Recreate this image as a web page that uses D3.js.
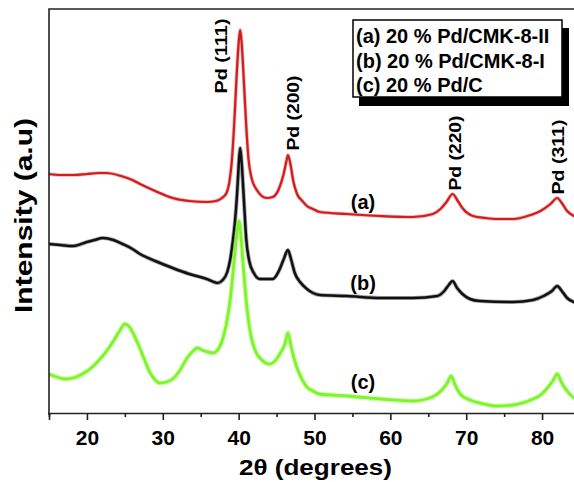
<!DOCTYPE html>
<html>
<head>
<meta charset="utf-8">
<script src="https://cdn.jsdelivr.net/npm/d3@7"></script>
<style>
  html, body { margin: 0; padding: 0; background: #fff; }
  svg { display: block; }
  text { font-family: Arial, "Liberation Sans", sans-serif; font-weight: bold; fill: #000; }
</style>
</head>
<body>
<svg id="chart" width="574" height="482"></svg>
<script>
// ---------- data ----------
const thetaA = [15.0,16.5,18.2,20.0,21.5,22.6,24.5,26.0,27.0,29.0,31.3,33.5,35.8,37.0,37.8,38.4,38.8,39.1,39.4,39.7,40.0,40.2,40.4,40.7,41.0,41.3,41.7,42.4,43.7,44.5,45.3,45.9,46.3,46.5,46.8,47.2,47.7,48.4,49.0,49.8,50.7,54.3,58.7,63.0,65.6,66.6,67.4,68.2,68.9,69.5,70.9,72.5,74.1,76.2,78.5,79.8,81.1,82.0,82.6,83.3,84.2,85.0];
const intensityA = [239,238,238,239,240,240,237,233,229,222,215,212,211,212,215,220,232,252,287,332,370,383,370,330,287,254,235,223,215,216,224,238,252,258,250,232,219,212,207,204,201,199,197,196,199,204,211,219,212,205,197,195,194,194,198,202,209,215,210,202,197,195];

const thetaB = [15.0,16.5,18.2,20.0,21.0,22.1,23.5,24.7,26.0,27.0,29.0,31.3,33.5,35.8,37.2,37.9,38.5,38.9,39.2,39.5,39.8,40.0,40.2,40.4,40.7,41.0,41.4,42.0,42.8,44.5,45.3,45.9,46.5,46.9,47.4,48.1,49.0,49.8,50.7,54.3,58.7,63.0,66.2,67.1,67.7,68.2,68.8,69.5,70.5,71.8,76.2,78.8,80.2,81.3,82.0,82.6,83.3,84.2,85.0];
const intensityB = [169,168,167,171,173,175,173,169,164,159,152,145,139,134,130,133,141,154,170,190,220,247,265,250,212,174,152,140,134,134,142,153,163,154,140,131,124,120,118,117,115,115,117,122,128,132,125,119,114,112,111,113,117,122,127,122,115,111,110];

const thetaC = [15.0,16.0,17.2,18.2,19.4,20.4,21.5,22.6,23.5,24.3,25.0,25.6,26.2,26.8,27.5,28.2,29.0,29.6,30.5,31.3,32.2,33.2,34.0,34.5,35.5,36.6,37.4,37.9,38.5,38.9,39.3,39.6,39.85,40.05,40.3,40.6,41.0,41.5,42.1,42.8,44.1,45.0,45.5,46.1,46.5,46.9,47.4,47.7,48.4,49.0,49.8,50.7,54.3,58.7,63.0,65.5,66.2,66.9,67.5,68.0,68.6,69.2,70.5,71.8,74.1,76.2,78.8,79.8,80.7,81.4,82.0,82.6,83.3,84.2,85.0];
const intensityC = [39,36,34,35,39,44,52,62,72,82,89,86,78,68,55,42,33,30,31,34,42,55,62,65,62,60,65,74,94,114,144,167,184,192,177,148,112,82,64,55,49,54,60,69,80,67,52,45,33,26,22,19,17,14,12,16,19,24,30,37,27,19,13,10,7,8,14,18,25,32,39,30,22,15,12];

const seriesNames = ["(a) 20 % Pd/CMK-8-II", "(b) 20 % Pd/CMK-8-I", "(c) 20 % Pd/C"];
const seriesTags = ["(a)", "(b)", "(c)"];
const seriesColors = ["#d41c1c", "#111111", "#7ef52a"];

const xTicks = [20, 30, 40, 50, 60, 70, 80];
const xMinorTicks = [15, 25, 35, 45, 55, 65, 75, 85];

const peakLabels = ["Pd (111)", "Pd (200)", "Pd (220)", "Pd (311)"];
const peakTheta = [37.7, 47.1, 68.5, 82.1];
const peakIntensity = [357, 300, 260, 256];

const tagTheta = [56.4, 56.4, 56.4];
const tagIntensity = [204, 123, 24];

// ---------- layout ----------
const svg = d3.select("#chart");
const mLeft = 49, mRight = 580, mTop = 9, mBottom = 413;

const x = d3.scaleLinear().domain([15, 85]).range([mLeft, mRight]);
const y = d3.scaleLinear().domain([0, 404]).range([mBottom, mTop]);

// clip for curves
svg.append("defs").append("clipPath").attr("id", "plotclip")
  .append("rect").attr("x", mLeft).attr("y", mTop).attr("width", mRight - mLeft).attr("height", mBottom - mTop);

// curves (a soft halo under each line stands in for the noisy band of the measured data)
const series = [
  {t: thetaA, v: intensityA, w: 2.2, halo: 3.6},
  {t: thetaB, v: intensityB, w: 2.5, halo: 4.2},
  {t: thetaC, v: intensityC, w: 2.8, halo: 5.0}
];
const line = d3.line().x(d => x(d[0])).y(d => y(d[1])).curve(d3.curveMonotoneX);
const gCurves = svg.append("g").attr("clip-path", "url(#plotclip)");
series.forEach((s, i) => {
  const pts = s.t.map((t, k) => [t, s.v[k]]);
  gCurves.append("path").datum(pts)
    .attr("d", line)
    .attr("fill", "none")
    .attr("stroke", seriesColors[i])
    .attr("stroke-opacity", 0.35)
    .attr("stroke-width", s.halo)
    .attr("stroke-linejoin", "round");
  gCurves.append("path").datum(pts)
    .attr("d", line)
    .attr("fill", "none")
    .attr("stroke", seriesColors[i])
    .attr("stroke-width", s.w)
    .attr("stroke-linejoin", "round");
});

// frame (left + top)
svg.append("path")
  .attr("d", `M${mLeft},${mBottom + 2}V${mTop}H${mRight}`)
  .attr("fill", "none").attr("stroke", "#222").attr("stroke-width", 1.6);

// bottom axis
const gx = svg.append("g").attr("transform", `translate(0,${mBottom})`);
gx.call(d3.axisBottom(x).tickValues(xTicks).tickSize(7).tickFormat(d3.format("d")));
gx.select(".domain").attr("stroke", "#222").attr("stroke-width", 1.6);
gx.selectAll(".tick line").attr("stroke", "#222").attr("stroke-width", 1.6);
gx.selectAll(".tick text")
  .attr("y", 32).attr("dy", null)
  .style("font-size", "21px").style("font-family", "Arial, 'Liberation Sans', sans-serif").style("font-weight", "bold");

const gxm = svg.append("g").attr("transform", `translate(0,${mBottom})`);
gxm.call(d3.axisBottom(x).tickValues(xMinorTicks).tickSize(4).tickFormat(""));
gxm.select(".domain").remove();
gxm.selectAll(".tick line").attr("stroke", "#222").attr("stroke-width", 1.6);

// axis titles
svg.append("text")
  .attr("x", 315.5).attr("y", 475)
  .attr("text-anchor", "middle")
  .attr("textLength", 153).attr("lengthAdjust", "spacingAndGlyphs")
  .style("font-size", "22px")
  .text("2θ (degrees)");

svg.append("text")
  .attr("transform", "translate(32,215.5) rotate(-90)")
  .attr("text-anchor", "middle")
  .attr("textLength", 195).attr("lengthAdjust", "spacingAndGlyphs")
  .style("font-size", "23px")
  .text("Intensity (a.u)");

// peak labels (rotated)
peakLabels.forEach((lab, i) => {
  svg.append("text")
    .attr("transform", `translate(${x(peakTheta[i])},${y(peakIntensity[i])}) rotate(-90)`)
    .attr("text-anchor", "middle")
    .attr("dy", "0.36em")
    .attr("textLength", 75).attr("lengthAdjust", "spacingAndGlyphs")
    .style("font-size", "17px")
    .text(lab);
});

// curve tags (a) (b) (c)
seriesTags.forEach((tag, i) => {
  svg.append("text")
    .attr("x", x(tagTheta[i])).attr("y", y(tagIntensity[i]))
    .attr("text-anchor", "middle")
    .style("font-size", "20px")
    .text(tag);
});

// legend box with shadow
const lg = svg.append("g");
lg.append("rect").attr("x", 359).attr("y", 28).attr("width", 210).attr("height", 78).attr("fill", "#000");
lg.append("rect").attr("x", 353).attr("y", 20).attr("width", 209).attr("height", 77)
  .attr("fill", "#fff").attr("stroke", "#000").attr("stroke-width", 1.5);
seriesNames.forEach((nm, i) => {
  lg.append("text")
    .attr("x", 356).attr("y", 43 + i * 24.5)
    .style("font-size", "20px")
    .text(nm);
});
</script>
</body>
</html>
